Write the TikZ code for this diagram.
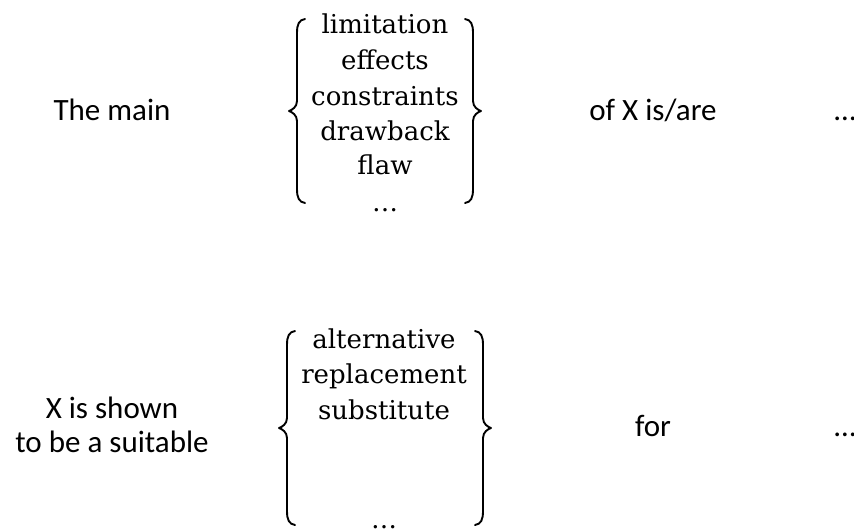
\documentclass[tikz,border=0pt]{standalone}
\usepackage{fontspec}
\setsansfont{Carlito}
\newfontfamily\wordfont{DejaVu Serif}
\begin{document}
\begin{tikzpicture}[x=1pt,y=-1pt,
  lab/.style={font=\sffamily\fontsize{31}{36}\selectfont, anchor=base, inner sep=0pt},
  word/.style={font=\wordfont\fontsize{26}{30}\selectfont, anchor=base, inner sep=0pt},
  bracestroke/.style={line width=1.9pt, line cap=round, line join=round},
  % left curly brace, tip at the origin, half height #1
  pics/curlyL/.style={code={
    \draw[bracestroke] (8,{-#1}) .. controls (2,{-#1+1}) and (0,{-#1+5}) .. (0,{-#1+14})
      -- (0,-10) .. controls (0,-4) and (-5,-1) .. (-8,0)
      .. controls (-5,1) and (0,4) .. (0,10)
      -- (0,{#1-14}) .. controls (0,{#1-5}) and (2,{#1-1}) .. (8,{#1});
  }}
]
\useasboundingbox (0,0) rectangle (854,531);

% first sentence
\node[lab] (main) at (112,120) {The main};
\node[lab] (ofx) at (653,120) {of X is/are};
\node[lab] (tailA) at (845,120) {…};

\node[word] (lim) at (385,33) {limitation};
\node[word] (eff) at (385,69) {effects};
\node[word] (con) at (385,105) {constraints};
\node[word] (drw) at (385,140) {drawback};
\node[word] (flw) at (385,174) {flaw};
\node[word] (etcA) at (385,211) {…};
\pic at (297,111) {curlyL=92};
\pic[xscale=-1] at (473,111) {curlyL=92};

% second sentence
\node[lab] (shown) at (112,418) {X is shown};
\node[lab] (suit) at (112,452) {to be a suitable};
\node[lab] (for) at (653,436) {for};
\node[lab] (tailB) at (845,436) {…};

\node[word] (alt) at (384,348) {alternative};
\node[word] (rep) at (384,383) {replacement};
\node[word] (sub) at (384,419) {substitute};
\node[word] (etcB) at (384,528) {…};
\pic at (287,428) {curlyL=97};
\pic[xscale=-1] at (483,428) {curlyL=97};
\end{tikzpicture}
\end{document}
